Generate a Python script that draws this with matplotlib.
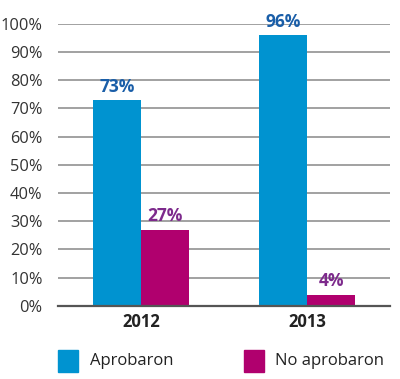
import numpy as np
import matplotlib.pyplot as plt
from matplotlib.patches import Rectangle

years = ['2012', '2013']
aprobaron = [73, 96]
no_aprobaron = [27, 4]
series_names = ['Aprobaron', 'No aprobaron']

blue = '#0093d0'
magenta = '#b0006e'
blue_txt = '#1a5ea8'
purple_txt = '#7d2a8c'

plt.rcParams['font.family'] = ['Open Sans', 'DejaVu Sans']

fig = plt.figure(figsize=(4.0, 3.79), dpi=100)
ax = fig.add_axes([0.145, 0.193, 0.83, 0.744])

x = np.arange(len(years))
w = 0.29
ax.bar(x - w / 2, aprobaron, w, color=blue, zorder=3)
ax.bar(x + w / 2, no_aprobaron, w, color=magenta, zorder=3)

for xi, v in zip(x - w / 2, aprobaron):
    ax.text(xi, v + 1.5, f'{v}%', ha='center', va='bottom', color=blue_txt,
            fontsize=12.5, fontweight='bold')
for xi, v in zip(x + w / 2, no_aprobaron):
    ax.text(xi, v + 1.5, f'{v}%', ha='center', va='bottom', color=purple_txt,
            fontsize=12.5, fontweight='bold')

ax.set_xlim(-0.5, 1.5)
ax.set_ylim(0, 100)
ax.set_yticks(np.arange(0, 101, 10))
ax.set_yticklabels([f'{t}%' for t in range(0, 101, 10)], fontsize=11.8, color='#333333')
ax.set_xticks(x)
ax.set_xticklabels(years, fontsize=12, fontweight='bold', color='#222222')
ax.tick_params(axis='y', length=0, pad=11)
ax.tick_params(axis='x', length=0, pad=5)
ax.grid(axis='y', color='#9a9a9a', linewidth=1.3, zorder=0)
for s in ['top', 'right', 'left']:
    ax.spines[s].set_visible(False)
ax.spines['bottom'].set_color('#555555')
ax.spines['bottom'].set_linewidth(1.6)
ax.spines['bottom'].set_zorder(4)

# legend
fig.patches.append(Rectangle((58 / 400, 1 - 372 / 379), 20 / 400, 22 / 379,
                             transform=fig.transFigure, color=blue))
fig.text(90 / 400, 1 - 361 / 379, series_names[0], fontsize=12, va='center', color='#222222')
fig.patches.append(Rectangle((244 / 400, 1 - 372 / 379), 20 / 400, 22 / 379,
                             transform=fig.transFigure, color=magenta))
fig.text(275 / 400, 1 - 361 / 379, series_names[1], fontsize=12, va='center', color='#222222')

fig.savefig('out.png', dpi=100)
